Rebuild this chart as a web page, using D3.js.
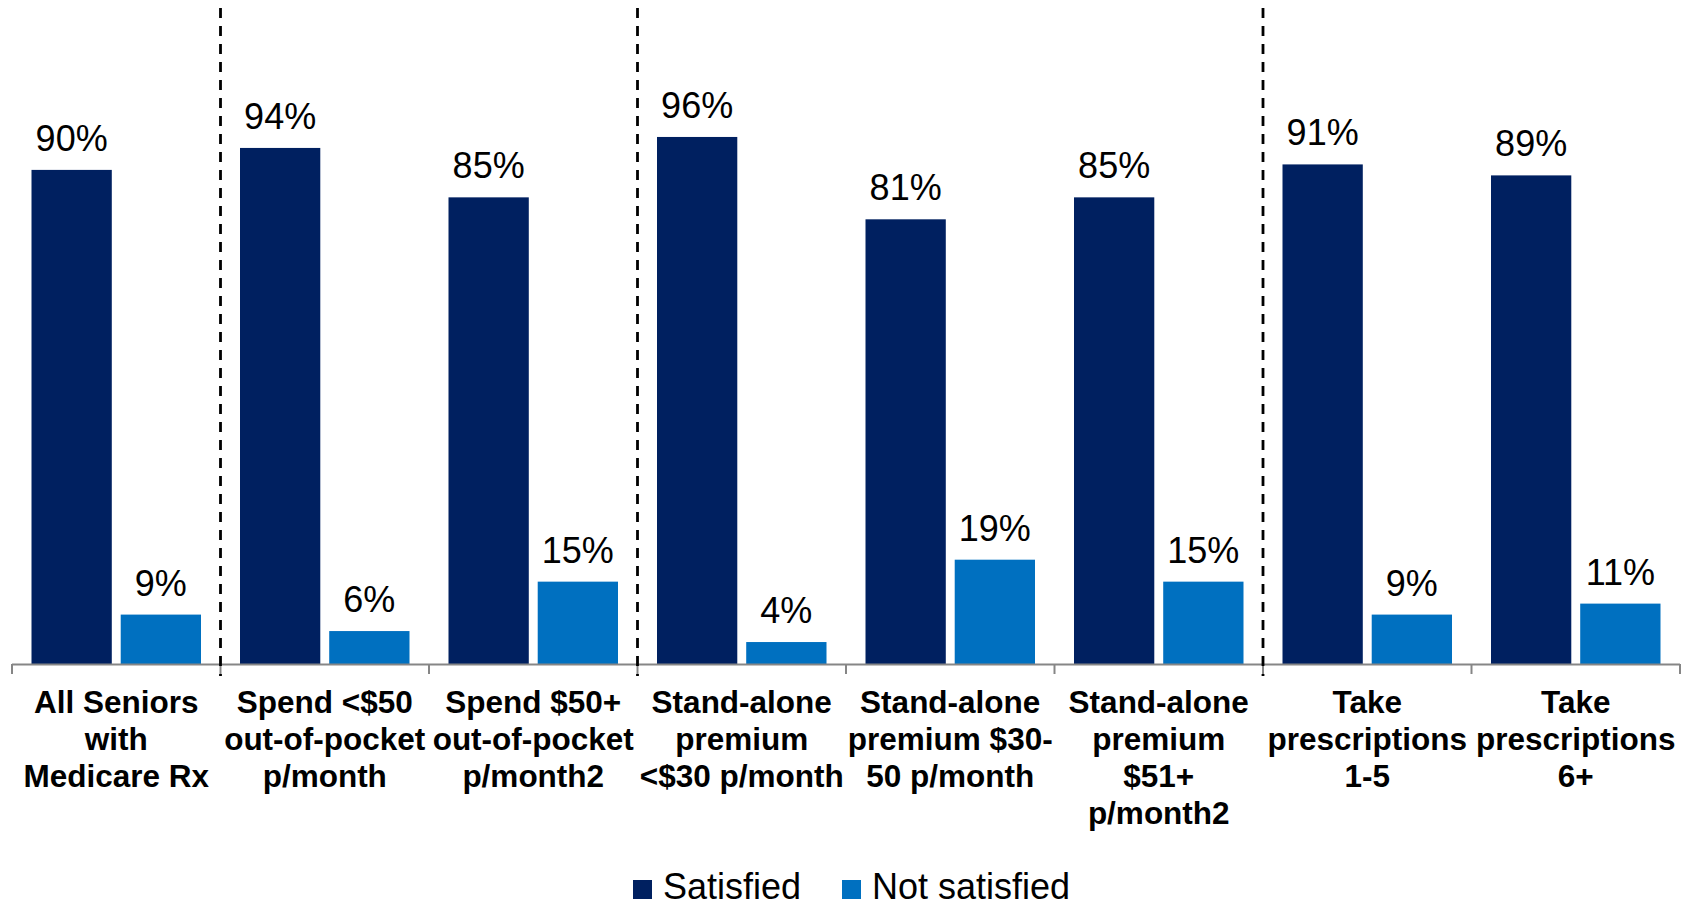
<!DOCTYPE html>
<html>
<head>
<meta charset="utf-8">
<script src="https://cdn.jsdelivr.net/npm/d3@7"></script>
<style>
  html, body { margin: 0; padding: 0; background: #fff; }
  svg { display: block; font-family: "Liberation Sans", Arial, sans-serif; }
</style>
</head>
<body>
<svg id="chart" width="1691" height="907"></svg>
<script>
const categories = [
  ["All Seniors", "with", "Medicare Rx"],
  ["Spend <$50", "out-of-pocket", "p/month"],
  ["Spend $50+", "out-of-pocket", "p/month2"],
  ["Stand-alone", "premium", "<$30 p/month"],
  ["Stand-alone", "premium $30-", "50 p/month"],
  ["Stand-alone", "premium", "$51+", "p/month2"],
  ["Take", "prescriptions", "1-5"],
  ["Take", "prescriptions", "6+"]
];
const seriesNames = ["Satisfied", "Not satisfied"];
const satisfied = [90, 94, 85, 96, 81, 85, 91, 89];
const notSatisfied = [9, 6, 15, 4, 19, 15, 9, 11];
const seriesColors = ["#002060", "#0070C0"];
const separatorsAfter = [0, 2, 5]; // dashed separators after these category indices

const svg = d3.select("#chart");
const catIds = categories.map((c, i) => i);
const x = d3.scaleBand().domain(catIds).range([12, 1680]).paddingInner(0).paddingOuter(0);
const xs = d3.scaleBand().domain(seriesNames).range([19.5, x.bandwidth() - 19.5]).paddingInner(0.1);
const y = d3.scaleLinear().domain([0, 100]).range([664, 115]);

const data = [];
catIds.forEach(i => {
  data.push({cat: i, s: seriesNames[0], v: satisfied[i], c: seriesColors[0]});
  data.push({cat: i, s: seriesNames[1], v: notSatisfied[i], c: seriesColors[1]});
});

// bars
svg.append("g").selectAll("rect").data(data).join("rect")
  .attr("x", d => x(d.cat) + xs(d.s))
  .attr("y", d => y(d.v))
  .attr("width", xs.bandwidth())
  .attr("height", d => y(0) - y(d.v))
  .attr("fill", d => d.c);

// value labels
svg.append("g").selectAll("text").data(data).join("text")
  .attr("x", d => x(d.cat) + xs(d.s) + xs.bandwidth() / 2)
  .attr("y", d => y(d.v) - 19)
  .attr("text-anchor", "middle")
  .attr("font-size", 36)
  .attr("fill", "#000")
  .text(d => d.v + "%");

// axis line & ticks
const axisG = svg.append("g");
axisG.append("line")
  .attr("x1", x.range()[0]).attr("x2", x.range()[1])
  .attr("y1", y(0) + 0.5).attr("y2", y(0) + 0.5)
  .attr("stroke", "#868686").attr("stroke-width", 2);
const tickXs = catIds.map(i => x(i)).concat([x.range()[1]]);
axisG.selectAll("line.tick").data(tickXs).join("line")
  .attr("class", "tick")
  .attr("x1", d => d).attr("x2", d => d)
  .attr("y1", y(0)).attr("y2", y(0) + 10)
  .attr("stroke", "#868686").attr("stroke-width", 2);

// dashed separators
svg.append("g").selectAll("line").data(separatorsAfter).join("line")
  .attr("x1", d => x(d) + x.bandwidth()).attr("x2", d => x(d) + x.bandwidth())
  .attr("y1", 8).attr("y2", 676)
  .attr("stroke", "#000").attr("stroke-width", 2.8)
  .attr("stroke-dasharray", "10,8");

// category labels
const labG = svg.append("g");
categories.forEach((lines, i) => {
  const t = labG.append("text")
    .attr("x", x(i) + x.bandwidth() / 2)
    .attr("y", 713)
    .attr("text-anchor", "middle")
    .attr("font-size", 31.5)
    .attr("font-weight", "bold")
    .attr("fill", "#000");
  lines.forEach((ln, j) => {
    t.append("tspan").attr("x", x(i) + x.bandwidth() / 2).attr("dy", j === 0 ? 0 : 37).text(ln);
  });
});

// legend
const legend = svg.append("g");
const legX = [633, 842];
seriesNames.forEach((n, i) => {
  legend.append("rect").attr("x", legX[i]).attr("y", 880).attr("width", 19).attr("height", 19).attr("fill", seriesColors[i]);
  legend.append("text").attr("x", legX[i] + 30).attr("y", 899).attr("font-size", 36).attr("fill", "#000").text(n);
});
</script>
</body>
</html>
